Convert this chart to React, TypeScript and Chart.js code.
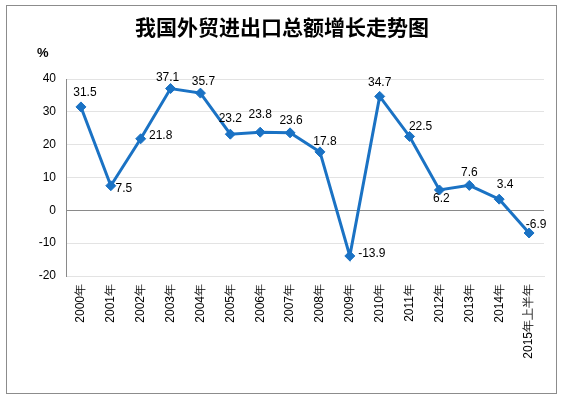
import React, { useEffect, useRef } from "react";
import { Chart, registerables } from "chart.js";

Chart.register(...registerables);

const title = "我国外贸进出口总额增长走势图";
const unitLabel = "%";
const categories = [
  "2000年", "2001年", "2002年", "2003年", "2004年", "2005年", "2006年", "2007年",
  "2008年", "2009年", "2010年", "2011年", "2012年", "2013年", "2014年", "2015年上半年",
];
const growth = [31.5, 7.5, 21.8, 37.1, 35.7, 23.2, 23.8, 23.6, 17.8, -13.9, 34.7, 22.5, 6.2, 7.6, 3.4, -6.9];
const yTicks = { min: -20, max: 40, step: 10 };

// label offsets relative to the point (dx, dy), text centered
const labelOffsets: [number, number][] = [
  [4, -14], [13, 3], [20, -3], [-3, -11], [3, -11], [0, -15], [0, -18], [1, -12],
  [5, -10], [22, -2], [0, -14], [11, -10], [2, 9], [0, -13], [6, -14], [7, -8],
];

const FONT = "'Liberation Sans', Arial, sans-serif";

const decorPlugin = {
  id: "decor",
  beforeDraw(chart: any) {
    const c = chart.ctx;
    c.save();
    c.fillStyle = "#ffffff";
    c.fillRect(0, 0, chart.width, chart.height);
    c.strokeStyle = "#8c8c8c";
    c.lineWidth = 1;
    c.strokeRect(6.5, 5.5, 550, 388);
    c.fillStyle = "#000";
    c.textAlign = "center";
    c.textBaseline = "middle";
    c.font = "bold 21px 'Noto Sans CJK SC', sans-serif";
    c.fillText(title, 282, 27);
    c.font = "bold 13px " + FONT;
    c.textAlign = "left";
    c.fillText(unitLabel, 37, 53);
    c.restore();
  },
  afterDatasetsDraw(chart: any) {
    const c = chart.ctx;
    const meta = chart.getDatasetMeta(0);
    c.save();
    c.fillStyle = "#000";
    c.font = "12px " + FONT;
    c.textAlign = "center";
    c.textBaseline = "middle";
    meta.data.forEach((pt: any, i: number) => {
      const [dx, dy] = labelOffsets[i];
      c.fillText(String(growth[i]), pt.x + dx, pt.y + dy);
    });
    c.restore();
  },
};

export default function App() {
  const ref = useRef<HTMLCanvasElement>(null);
  useEffect(() => {
    if (!ref.current) return;
    const chart = new Chart(ref.current, {
      type: "line",
      data: {
        labels: categories,
        datasets: [
          {
            data: growth,
            borderColor: "#1a72c4",
            backgroundColor: "#1a72c4",
            borderWidth: 3,
            pointStyle: "rectRot",
            pointRadius: 5,
            pointBorderWidth: 1,
            tension: 0,
          },
        ],
      },
      options: {
        animation: false,
        responsive: false,
        layout: { padding: { left: 0, top: 79, right: 19, bottom: 0 } },
        plugins: { legend: { display: false }, tooltip: { enabled: false } },
        scales: {
          x: {
            offset: true,
            grid: { display: false, drawTicks: false },
            border: { color: "#e3e3e3" },
            ticks: {
              maxRotation: 90,
              minRotation: 90,
              padding: 8,
              color: "#000",
              font: { family: FONT, size: 12 },
              autoSkip: false,
            },
            afterFit(scale: any) {
              scale.height = 123;
            },
          },
          y: {
            min: yTicks.min,
            max: yTicks.max,
            ticks: {
              stepSize: yTicks.step,
              padding: 10,
              color: "#000",
              font: { family: FONT, size: 12 },
            },
            grid: {
              drawTicks: false,
              color: (ctx: any) => (ctx.tick && ctx.tick.value === 0 ? "#8a8a8a" : "#e3e3e3"),
            },
            border: { color: "#8a8a8a" },
            afterFit(scale: any) {
              scale.width = 66;
            },
          },
        },
      },
      plugins: [decorPlugin],
    });
    return () => chart.destroy();
  }, []);
  return (
    <div style={{ position: "fixed", left: 0, top: 0, width: 563, height: 399, background: "#fff" }}>
      <canvas ref={ref} width={563} height={399} style={{ display: "block" }} />
    </div>
  );
}
